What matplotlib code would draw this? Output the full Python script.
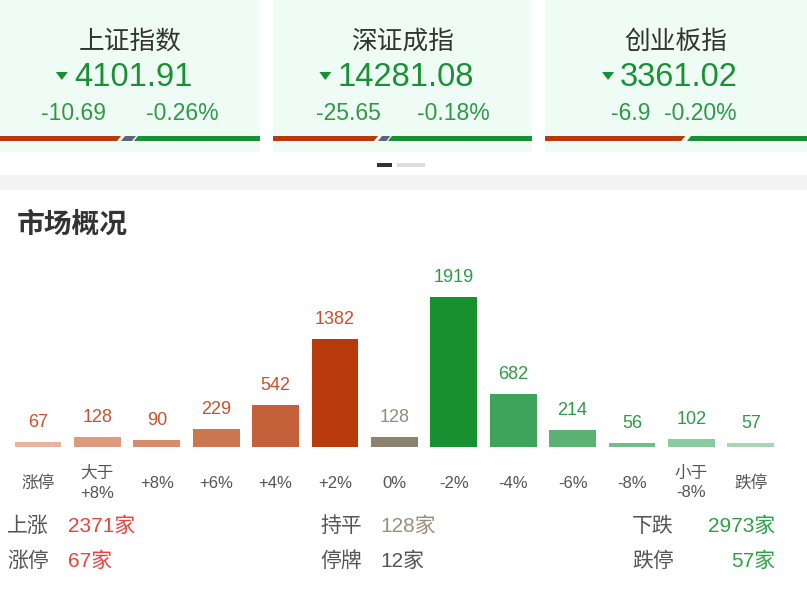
import matplotlib.pyplot as plt
from matplotlib.patches import Polygon, Rectangle

plt.rcParams['font.family'] = ['Liberation Sans', 'Noto Sans CJK SC', 'DejaVu Sans']

# index cards
index_names = ['上证指数', '深证成指', '创业板指']
index_values = ['4101.91', '14281.08', '3361.02']
index_changes = ['-10.69', '-25.65', '-6.9']
index_pcts = ['-0.26%', '-0.18%', '-0.20%']
# share of up / flat / down in each card strip
strip_up = [0.45, 0.39, 0.52]
strip_flat = [0.05, 0.04, 0.0]

# market distribution
categories = ['涨停', '大于\n+8%', '+8%', '+6%', '+4%', '+2%', '0%',
              '-2%', '-4%', '-6%', '-8%', '小于\n-8%', '跌停']
counts = [67, 128, 90, 229, 542, 1382, 128, 1919, 682, 214, 56, 102, 57]
bar_colors = ['#e9b39e', '#dd9a7e', '#d88a6c', '#cc7650', '#c4613a', '#b83a0c',
              '#8c8270', '#17902f', '#3ea45b', '#5ab373', '#70bf86', '#8acb9d', '#a6d8b3']
label_colors = ['#c9502a'] * 6 + ['#958b79'] + ['#2f9a45'] * 6

# summary rows
summary = [
    [('上涨', '2371家', '#e8433f'), ('持平', '128家', '#9b8f7c'), ('下跌', '2973家', '#2ea046')],
    [('涨停', '67家', '#e8433f'), ('停牌', '12家', '#555555'), ('跌停', '57家', '#2ea046')],
]

W, H = 807, 593
fig = plt.figure(figsize=(W / 100, H / 100), dpi=100)
fig.patch.set_facecolor('white')
renderer = fig.canvas.get_renderer()

# overlay in pixel coordinates for the page decoration
ov = fig.add_axes([0, 0, 1, 1])
ov.set_xlim(0, W)
ov.set_ylim(H, 0)
ov.axis('off')

green = '#1a9035'
sub_green = '#2f9a45'
cards = [(0, 260), (273, 532), (545, 807)]
sub_offsets = [(-56, 52), (-54, 51), (-45, 24)]
for i, (x0, x1) in enumerate(cards):
    ov.add_patch(Rectangle((x0, 0), x1 - x0, 152, color='#effcf6', lw=0))
    cx = (x0 + x1) / 2
    ov.text(cx, 42, index_names[i], ha='center', va='center', fontsize=18.5, color='#333333')
    t = ov.text(cx + 3, 78, index_values[i], ha='center', va='center', fontsize=23.5,
                color=green)
    bb = t.get_window_extent(renderer)
    tx = bb.x0 - 12
    ov.add_patch(Polygon([[tx - 6, 72], [tx + 6, 72], [tx, 80]], color=green, lw=0))
    dl, dr = sub_offsets[i]
    ov.text(cx + dl, 114, index_changes[i], ha='center', va='center', fontsize=16.5, color=sub_green)
    ov.text(cx + dr, 114, index_pcts[i], ha='center', va='center', fontsize=16.5, color=sub_green)
    # up / flat / down strip
    w = x1 - x0
    y0, y1, s = 136, 141, 4
    r_end = x0 + w * strip_up[i]
    ov.add_patch(Polygon([[x0, y0], [r_end + s, y0], [r_end, y1], [x0, y1]], color='#b83a0c', lw=0))
    if strip_flat[i] > 0:
        f_end = r_end + 2 + w * strip_flat[i]
        ov.add_patch(Polygon([[r_end + 4 + s, y0], [f_end + s, y0], [f_end, y1], [r_end + 4, y1]],
                             color='#5b6479', lw=0))
        g_start = f_end + 2
    else:
        g_start = r_end + 6
    ov.add_patch(Polygon([[g_start + s, y0], [x1, y0], [x1, y1], [g_start, y1]], color=green, lw=0))

# page indicator and separator band
ov.add_patch(Rectangle((377, 163), 15, 4, color='#333333', lw=0))
ov.add_patch(Rectangle((397, 163), 28, 4, color='#dddddd', lw=0))
ov.add_patch(Rectangle((0, 175), W, 15, color='#f3f3f3', lw=0))

ov.text(17, 225, '市场概况', ha='left', va='center', fontsize=20, color='#333333', fontweight='bold')

# bar chart
base_px, top_px = 447, 297
left_px, step = 38 - 59.4 / 2, 59.4
ax = fig.add_axes([left_px / W, (H - base_px) / H, 13 * step / W, (base_px - top_px) / H])
ax.set_xlim(-0.5, 12.5)
ax.set_ylim(0, max(counts))
ax.axis('off')
xs = list(range(len(counts)))
ax.bar(xs, counts, width=0.79, color=bar_colors, linewidth=0)
for x, c, lc in zip(xs, counts, label_colors):
    ax.annotate(str(c), (x, c), xytext=(0, 11), textcoords='offset pixels',
                ha='center', va='bottom', fontsize=13, color=lc, annotation_clip=False)
for x, cat in zip(xs, categories):
    if '\n' in cat:
        ax.annotate(cat, (x, 0), xytext=(0, -36), textcoords='offset pixels', ha='center',
                    va='center', fontsize=12, color='#555555', linespacing=1.4,
                    annotation_clip=False)
    else:
        ax.annotate(cat, (x, 0), xytext=(0, -36), textcoords='offset pixels', ha='center',
                    va='center', fontsize=12, color='#555555', annotation_clip=False)

# summary rows
row_y = [526, 561]
for r, row in enumerate(summary):
    y = row_y[r]
    (l1, v1, c1), (l2, v2, c2), (l3, v3, c3) = row
    ov.text(7, y, l1, ha='left', va='center', fontsize=15, color='#555555')
    ov.text(68, y, v1, ha='left', va='center', fontsize=15, color=c1)
    ov.text(320, y, l2, ha='left', va='center', fontsize=15, color='#555555')
    ov.text(380, y, v2, ha='left', va='center', fontsize=15, color=c2)
    ov.text(632, y, l3, ha='left', va='center', fontsize=15, color='#555555')
    ov.text(775, y, v3, ha='right', va='center', fontsize=15, color=c3)

fig.savefig('out.png', dpi=100, facecolor='white')
